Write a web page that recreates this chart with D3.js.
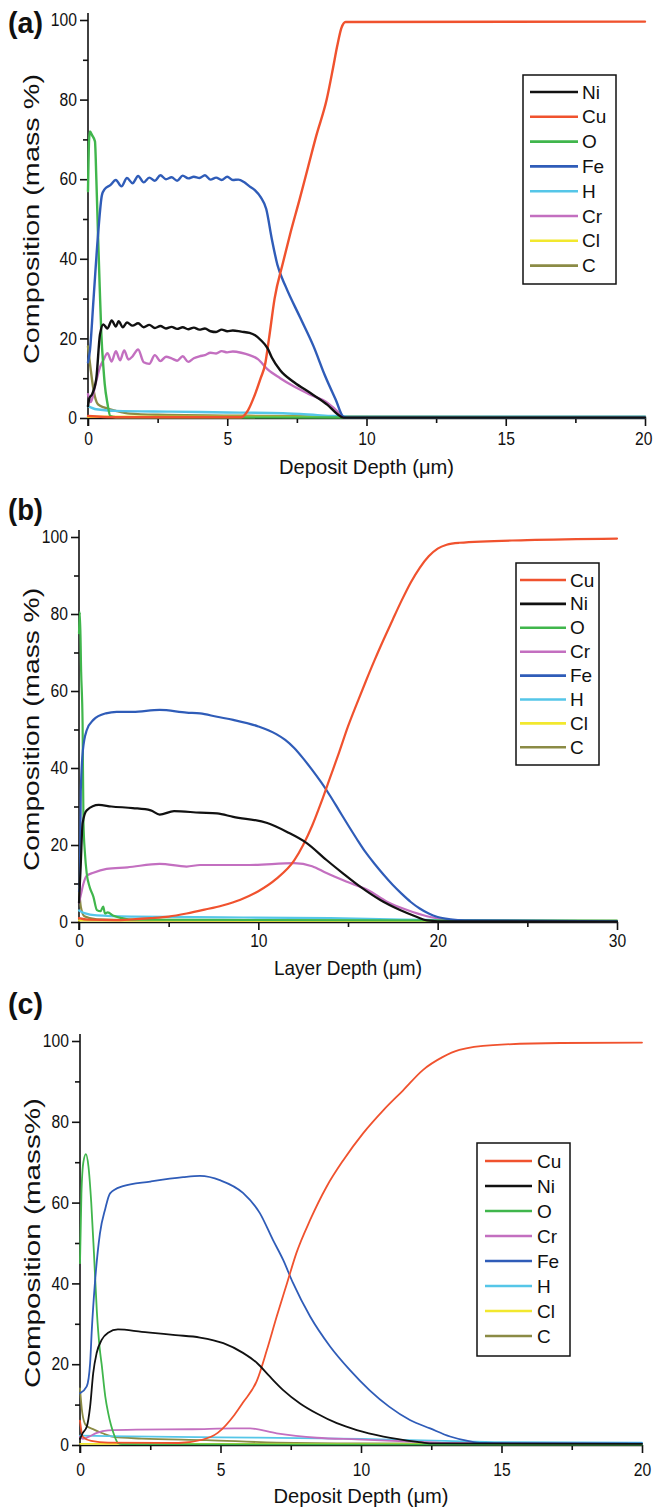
<!DOCTYPE html>
<html><head><meta charset="utf-8">
<script src="https://cdn.jsdelivr.net/npm/d3@7"></script>
<style>body{margin:0;background:#fff} svg{display:block} text{font-family:"Liberation Sans",Arial,sans-serif;fill:#111}</style>
</head><body><svg id="c" width="654" height="1510"></svg>
<script>
// ---------------- DATA ----------------
// tick labels
const yTicks = [0, 20, 40, 60, 80, 100];
const yMinor = [10, 30, 50, 70, 90];
const xTicksA = [0, 5, 10, 15, 20];
const xMinorA = [2.5, 7.5, 12.5, 17.5];
const xTicksB = [0, 10, 20, 30];
const xMinorB = [5, 15, 25];
const xTicksC = [0, 5, 10, 15, 20];
const xMinorC = [2.5, 7.5, 12.5, 17.5];

// legend categories (order as in each legend)
const legendA = ["Ni", "Cu", "O", "Fe", "H", "Cr", "Cl", "C"];
const legendB = ["Cu", "Ni", "O", "Cr", "Fe", "H", "Cl", "C"];
const legendC = ["Cu", "Ni", "O", "Cr", "Fe", "H", "Cl", "C"];

// panel (a): [depth µm, mass %]
const a_Fe = [[0,14],[0.07,17],[0.2,30],[0.36,46],[0.5,56],[0.6,57.5],[0.8,58.5],[1.0,59.8],[1.2,58.2],[1.4,60.3],[1.6,59.0],[1.8,60.8],[2.0,59.2],[2.2,60.4],[2.4,59.6],[2.6,61.0],[2.8,60.0],[3.0,60.5],[3.2,59.6],[3.4,60.9],[3.6,60.2],[3.8,60.6],[4.0,60.3],[4.2,61.0],[4.4,59.9],[4.6,60.4],[4.8,59.8],[5.0,60.6],[5.2,59.8],[5.4,59.9],[5.6,59.3],[5.8,58.2],[6.0,57.2],[6.2,55.5],[6.4,52.5],[6.6,45],[6.8,38.5],[7.1,33],[7.6,25.5],[8.1,18],[8.5,10.8],[8.9,4.5],[9.16,0.4],[9.3,0.1],[20,0.1]];
const a_Ni = [[0,3],[0.05,5],[0.15,6],[0.3,10],[0.43,21],[0.55,23.5],[0.7,22.5],[0.85,24.5],[1.0,23],[1.1,24.3],[1.25,22.8],[1.4,24],[1.6,23.2],[1.8,23.8],[2.0,22.8],[2.2,23.4],[2.4,22.6],[2.6,23.1],[2.8,22.5],[3.0,22.9],[3.2,22.4],[3.4,22.8],[3.6,22.3],[3.8,22.7],[4.0,22.2],[4.2,22.5],[4.4,21.8],[4.6,21.6],[4.8,22.2],[5.0,21.8],[5.2,22.0],[5.5,21.7],[5.8,21.4],[6.0,20.8],[6.2,19.6],[6.45,17.5],[6.6,15.2],[6.9,12],[7.4,9],[8.0,6.2],[8.6,3.3],[8.95,1],[9.16,0.1],[20,0.1]];
const a_Cr = [[0,6],[0.1,4],[0.25,8],[0.43,12.8],[0.55,14.5],[0.7,16.3],[0.85,14.2],[1.0,16.8],[1.15,14.5],[1.3,17.0],[1.45,14.7],[1.6,15.5],[1.8,17.2],[2.0,14.0],[2.2,13.6],[2.4,15.8],[2.6,14.3],[2.8,15.4],[3.0,15.0],[3.2,14.4],[3.4,15.5],[3.6,14.1],[3.8,15.0],[4.0,15.5],[4.2,15.8],[4.4,16.4],[4.6,16.2],[4.8,16.8],[5.0,16.5],[5.2,16.7],[5.5,16.4],[5.8,15.8],[6.1,14.8],[6.45,12.2],[6.9,10],[7.4,7.9],[8.0,5.8],[8.6,3.8],[9.05,1],[9.16,0.1],[20,0.1]];
const a_O = [[0,57],[0.04,70],[0.07,72],[0.15,71],[0.25,69.5],[0.3,60],[0.36,46],[0.42,33],[0.48,21],[0.55,13],[0.6,8.6],[0.7,3.6],[0.8,0.5],[1.0,0.2],[20,0.1]];
const a_Cu = [[0,0.5],[1,0.2],[5.5,0.2],[5.75,2],[6.0,6],[6.2,10],[6.36,13.5],[6.5,20],[6.7,30],[7.0,39],[7.25,46],[7.6,55],[7.9,63],[8.2,71],[8.57,80],[8.8,88],[8.95,93.5],[9.1,98],[9.25,99.5],[20,99.6]];
const a_H = [[0,3],[0.3,2.2],[1,1.8],[3,1.6],[5,1.4],[7,1.2],[8.5,0.6],[9.5,0.3],[20,0.3]];
const a_C = [[0,18],[0.1,12],[0.2,7],[0.36,3.4],[0.6,2.6],[1.0,1.8],[1.5,1.1],[2.5,0.8],[5,0.6],[9,0.4],[20,0.3]];
const a_Cl = [[0,0.3],[20,0.2]];

// panel (b)
const b_O = [[0,75],[0.05,80.5],[0.12,65],[0.2,51.6],[0.25,25.6],[0.33,18],[0.43,12.6],[0.6,9],[0.8,6.6],[1.0,3.1],[1.2,2.8],[1.35,4],[1.45,2.2],[1.6,2.5],[1.93,1.6],[2.4,1],[3,0.6],[30,0.3]];
const b_Fe = [[0,8],[0.05,10],[0.1,34],[0.22,44.7],[0.43,49.8],[0.8,52.5],[1.5,54.2],[2.1,54.6],[3,54.6],[4.5,55.1],[6,54.4],[6.75,54.2],[7.7,53.3],[8.6,52.5],[10,50.8],[11,48.8],[11.5,47.3],[12,45.2],[12.5,42.5],[13,39.5],[13.5,36.3],[14,32.8],[14.5,29],[15,25.2],[15.5,21.5],[16,18],[16.5,15],[17,12.2],[17.5,9.6],[18,7.3],[18.5,5.2],[19,3.5],[19.5,2.2],[20,1.3],[20.7,0.7],[21.5,0.4],[30,0.2]];
const b_Ni = [[0,5],[0.1,15],[0.2,25.6],[0.43,29],[1.1,30.4],[1.8,30],[3,29.6],[4.0,29],[4.5,27.9],[5.3,28.8],[6.75,28.4],[7.7,28.2],[8.6,27.3],[10.5,25.7],[11.6,23.4],[12.7,20.5],[13.8,16.1],[14.7,12.7],[15.7,9.1],[16.8,5.7],[17.9,3.1],[18.85,1.3],[19.4,0.4],[20,0.2],[30,0.1]];
const b_Cr = [[0,5],[0.1,7],[0.25,10],[0.43,12],[0.8,12.8],[1.54,13.8],[2.7,14.2],[4.5,15.1],[6,14.4],[6.75,14.8],[9.5,14.8],[12,15.3],[13,14.5],[13.8,12.7],[14.9,10.5],[16.1,8.3],[17.2,5.2],[18.3,3.1],[19.4,1.5],[20.5,0.6],[21.5,0.3],[30,0.2]];
const b_Cu = [[0,1],[0.5,0.6],[2,0.5],[3,0.7],[4,1],[5,1.4],[6,2.2],[7,3.2],[8,4.3],[9,5.8],[10,8],[11,11.2],[12,16],[12.5,20],[13,25],[13.5,31],[14,37.5],[14.5,44],[15,50.8],[15.5,56.8],[16,62.6],[16.5,68.2],[17,73.5],[17.5,78.6],[18,83.6],[18.5,88.2],[19,92],[19.5,95],[20,97],[20.5,98],[21.2,98.5],[25,99.2],[30,99.6]];
const b_H = [[0,3],[0.3,2.3],[1,1.7],[3,1.4],[8,1.2],[14,1],[18,0.6],[22,0.4],[30,0.3]];
const b_C = [[0,9],[0.1,4],[0.3,1.5],[1,0.7],[5,0.4],[30,0.3]];
const b_Cl = [[0,0.4],[30,0.3]];

// panel (c)
const c_O = [[0,45],[0.05,62],[0.12,70],[0.21,72],[0.3,69],[0.4,60],[0.5,47],[0.6,33],[0.7,24],[0.77,20],[0.9,12],[1.0,8],[1.1,5],[1.2,2.8],[1.35,0.5],[1.5,0.2],[20,0.1]];
const c_Fe = [[0,12.8],[0.24,14.5],[0.36,20.2],[0.42,28.5],[0.53,40],[0.71,52.4],[0.9,58.5],[1.07,62.3],[1.5,64],[2.5,65.2],[3.67,66.3],[4.27,66.6],[5.0,65.5],[5.8,62.4],[6.4,57.4],[6.87,50.7],[7.23,45.8],[7.58,40.1],[8.19,31.8],[8.9,24.4],[9.6,18.6],[10.3,13.6],[11.0,9.5],[11.74,6.2],[12.46,4.1],[13.17,2.1],[13.8,1],[14.3,0.5],[20,0.4]];
const c_Ni = [[0,1.5],[0.1,3],[0.24,4.5],[0.36,9.5],[0.47,17.8],[0.59,22.7],[0.77,26],[1.0,27.8],[1.35,28.6],[2.2,28],[2.49,27.8],[3.4,27.2],[4.27,26.6],[5.1,25.2],[5.8,22.8],[6.3,20.3],[6.76,16.9],[7.23,13.6],[7.83,10.3],[8.43,7.8],[9.14,5.4],[9.85,3.7],[10.8,2.1],[12,0.8],[12.5,0.4],[20,0.3]];
const c_Cu = [[0,6],[0.1,2],[0.4,1],[1,0.6],[3.5,0.5],[4.35,1.3],[4.9,3],[5.5,7.5],[5.8,10.5],[6.3,16],[6.65,23.5],[7.0,31.8],[7.37,40.1],[7.7,47.5],[8.19,55.7],[8.78,64],[9.37,70.5],[10.08,77.2],[10.8,82.9],[11.5,87.8],[12.2,92.8],[12.9,96],[13.5,97.8],[14.7,99],[17.1,99.5],[20,99.6]];
const c_Cr = [[0,2],[0.1,1.5],[0.3,2],[0.6,3],[1.0,3.6],[2,3.8],[4,3.9],[5.5,4.1],[6.05,4.1],[7,2.9],[8.43,1.8],[9.85,1.4],[12,0.8],[13,0.5],[20,0.3]];
const c_H = [[0,2.3],[1,2.2],[5,1.9],[10,1.5],[13,1.0],[15,0.7],[20,0.6]];
const c_C = [[0,14],[0.08,8],[0.2,5],[0.5,3.8],[0.8,2.9],[1.2,2],[2.2,1.6],[4.5,1.2],[7,0.6],[10,0.4],[20,0.3]];
const c_Cl = [[0,0.3],[20,0.2]];

// ---------------- STYLE / LAYOUT ----------------
const colors = {Ni:"#111111", Cu:"#f0522e", O:"#40b64c", Fe:"#2f5cb8", H:"#55c6e8", Cr:"#c36fc0", Cl:"#f2e82e", C:"#8b8b45"};
const drawOrder = ["C","Cl","H","Cr","O","Fe","Cu","Ni"];

const panels = [
  {label:"(a)", labelY:33, series:{Ni:a_Ni,Cu:a_Cu,O:a_O,Fe:a_Fe,H:a_H,Cr:a_Cr,Cl:a_Cl,C:a_C}, legend:legendA,
   xMax:20, xTicks:xTicksA, xMinor:xMinorA, L:88, R:645, T:20, B:418, lw:2.4, curve:d3.curveMonotoneX,
   ytitle:"Composition (mass %)", ytitleX:39, ytitleLen:290, xtitle:"Deposit Depth (\u03bcm)", xtitleY:474, xtitleLen:175,
   tickDy:27, lg:{x:523, y:75, w:93, h:209, row0:92, dy:24.8, lx0:530, lx1:578, tx:582}},
  {label:"(b)", labelY:520, series:{Ni:b_Ni,Cu:b_Cu,O:b_O,Fe:b_Fe,H:b_H,Cr:b_Cr,Cl:b_Cl,C:b_C}, legend:legendB,
   xMax:30, xTicks:xTicksB, xMinor:xMinorB, L:79, R:617, T:537, B:922, lw:2.2, curve:d3.curveMonotoneX,
   ytitle:"Composition (mass %)", ytitleX:39, ytitleLen:283, xtitle:"Layer Depth (\u03bcm)", xtitleY:975, xtitleLen:148,
   tickDy:25, lg:{x:516, y:563, w:83, h:202, row0:580, dy:23.9, lx0:520, lx1:566, tx:570}},
  {label:"(c)", labelY:1014, series:{Ni:c_Ni,Cu:c_Cu,O:c_O,Fe:c_Fe,H:c_H,Cr:c_Cr,Cl:c_Cl,C:c_C}, legend:legendC,
   xMax:20, xTicks:xTicksC, xMinor:xMinorC, L:80, R:642, T:1041, B:1445, lw:1.8, curve:d3.curveMonotoneX,
   ytitle:"Composition (mass%)", ytitleX:40, ytitleLen:290, xtitle:"Deposit Depth (\u03bcm)", xtitleY:1503, xtitleLen:175,
   tickDy:31, lg:{x:477, y:1143, w:93, h:213, row0:1161, dy:25, lx0:485, lx1:532, tx:537}}
];

const svg = d3.select("#c");

function squeeze(sel, factor){
  sel.each(function(){
    const n = this.getComputedTextLength();
    d3.select(this).attr("textLength", n*factor).attr("lengthAdjust","spacingAndGlyphs");
  });
}

panels.forEach(p => {
  const g = svg.append("g");
  const x = d3.scaleLinear().domain([0, p.xMax]).range([p.L, p.R]);
  const y = d3.scaleLinear().domain([0, 100]).range([p.B, p.T]);

  // x axis
  const xa = g.append("g").attr("transform", `translate(0,${p.B})`)
    .call(d3.axisBottom(x).tickValues(p.xTicks).tickSize(8).tickSizeOuter(0).tickFormat(d3.format("d")));
  g.append("g").attr("transform", `translate(0,${p.B})`)
    .call(d3.axisBottom(x).tickValues(p.xMinor).tickSize(5).tickFormat(""))
    .select(".domain").remove();
  xa.select(".domain").attr("stroke","#111").attr("stroke-width",1.6);
  xa.selectAll(".tick text").attr("font-size",18).attr("fill","#111").attr("dy",null).attr("y",p.tickDy)
    .call(squeeze, 0.87);
  // keep the last label inside the page
  xa.selectAll(".tick text").each(function(d){
    const half = (+this.getAttribute("textLength"))/2;
    const cx = x(d);
    if (cx + half > 652) d3.select(this).attr("x", 652 - half - cx);
  });

  // y axis
  const ya = g.append("g").attr("transform", `translate(${p.L},0)`)
    .call(d3.axisLeft(y).tickValues(yTicks).tickSize(8).tickSizeOuter(0).tickPadding(3));
  g.append("g").attr("transform", `translate(${p.L},0)`)
    .call(d3.axisLeft(y).tickValues(yMinor).tickSize(5).tickFormat(""))
    .select(".domain").remove();
  ya.select(".domain").remove();
  ya.selectAll(".tick text").attr("font-size",18).attr("fill","#111").call(squeeze, 0.87);
  g.selectAll(".tick line").attr("stroke","#111").attr("stroke-width",1.6);
  g.append("line").attr("x1",p.L).attr("x2",p.L).attr("y1",p.B+8).attr("y2",p.T-7)
    .attr("stroke","#111").attr("stroke-width",1.6);

  // series
  const line = d3.line().x(d => x(d[0])).y(d => y(d[1])).curve(p.curve);
  drawOrder.forEach(k => {
    g.append("path").datum(p.series[k]).attr("d", line)
      .attr("fill","none").attr("stroke", colors[k]).attr("stroke-width", p.lw)
      .attr("stroke-linejoin","round").attr("stroke-linecap","round");
  });

  // titles
  g.append("text").attr("x",(p.L+p.R)/2).attr("y",p.xtitleY).attr("text-anchor","middle")
    .attr("font-size",21).attr("textLength",p.xtitleLen).attr("lengthAdjust","spacingAndGlyphs").text(p.xtitle);
  g.append("text").attr("transform",`translate(${p.ytitleX},${(p.T+p.B)/2}) rotate(-90)`).attr("text-anchor","middle")
    .attr("font-size",22).attr("textLength",p.ytitleLen).attr("lengthAdjust","spacingAndGlyphs").text(p.ytitle);
  g.append("text").attr("x",8).attr("y",p.labelY).attr("font-size",29).attr("font-weight","bold")
    .attr("textLength",35).attr("lengthAdjust","spacingAndGlyphs").text(p.label);

  // legend
  const lg = p.lg;
  g.append("rect").attr("x",lg.x).attr("y",lg.y).attr("width",lg.w).attr("height",lg.h)
    .attr("fill","#fff").attr("stroke","#111").attr("stroke-width",1.5);
  p.legend.forEach((k,i) => {
    const yy = lg.row0 + i*lg.dy;
    g.append("line").attr("x1",lg.lx0).attr("x2",lg.lx1).attr("y1",yy).attr("y2",yy)
      .attr("stroke",colors[k]).attr("stroke-width",2.6);
    g.append("text").attr("x",lg.tx).attr("y",yy+6.5).attr("font-size",19).text(k);
  });
});
</script></body></html>
